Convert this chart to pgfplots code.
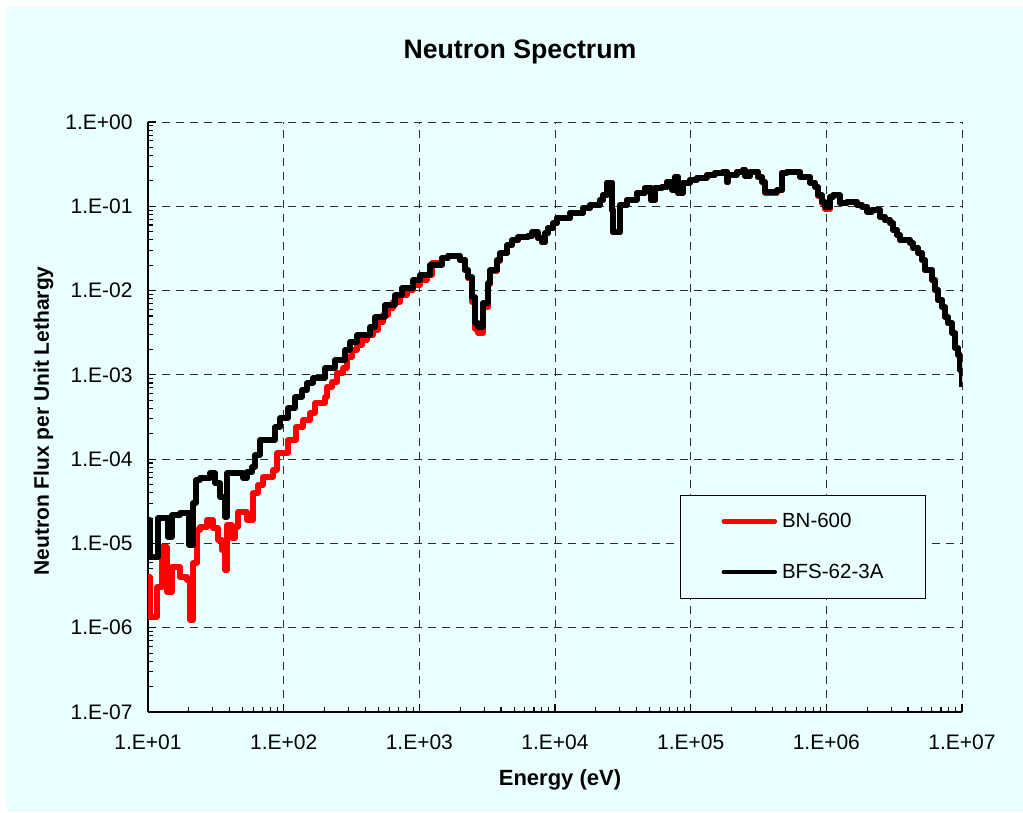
\documentclass[border=0pt]{standalone}
\usepackage{pgfplots}
\pgfplotsset{compat=1.18}
\usepackage{fontspec}
\setmainfont{Liberation Sans}
\definecolor{bgcyan}{RGB}{234,255,255}
\definecolor{gridgray}{RGB}{45,45,45}
\begin{document}
\begin{tikzpicture}[x=1pt,y=1pt]
\fill[white] (0,0) rectangle (1023,812);
\fill[bgcyan] (7,0) rectangle (1023,805);
\begin{axis}[
  at={(148pt,100pt)}, anchor=south west,
  scale only axis, width=814pt, height=590pt,
  xmode=log, ymode=log,
  xmin=10, xmax=1e7, ymin=1e-7, ymax=1,
  axis x line*=bottom, axis y line*=left,
  x axis line style={-, line width=1.6pt},
  y axis line style={-, line width=1.6pt},
  xtick={1e1,1e2,1e3,1e4,1e5,1e6,1e7},
  xticklabels={1.E+01,1.E+02,1.E+03,1.E+04,1.E+05,1.E+06,1.E+07},
  ytick={1e-7,1e-6,1e-5,1e-4,1e-3,1e-2,1e-1,1},
  yticklabels={1.E-07,1.E-06,1.E-05,1.E-04,1.E-03,1.E-02,1.E-01,1.E+00},
  xminorticks=true, yminorticks=true,
  tick align=inside,
  major tick length=8pt, minor tick length=5pt,
  tick style={black, line width=1.1pt},
  grid=major,
  major grid style={gridgray, line width=1pt, dash pattern=on 8pt off 6pt},
  ticklabel style={font=\fontsize{21}{25}\selectfont},
  xticklabel style={yshift=-19pt},
  yticklabel style={xshift=-12pt},
  legend style={at={(0.6536,0.3678)}, anchor=north west, draw=black, line width=1pt,
    fill=bgcyan, font=\fontsize{20.5}{24}\selectfont,
    inner xsep=41pt, inner ysep=17pt, row sep=33pt, column sep=4pt,
    nodes={inner sep=1pt}},
  legend cell align=left,
  legend image code/.code={\draw[#1, line width=4.5pt, line cap=round] (0pt,0pt) -- (51pt,0pt);},
]
\addplot[const plot, red, line width=5.4pt, line join=round] coordinates {
(10,4.0e-6) (10.34,1.341e-6) (11.65,3.042e-6) (12.68,9.07e-6) (13.8,2.654e-6)
(15.0,5.253e-6) (17.2,4.0e-6) (19.39,3.683e-6) (20.39,1.235e-6) (21.5,5.86e-6)
(22.97,1.443e-5) (24.2,1.567e-5) (27.2,1.897e-5) (30.1,1.525e-5) (32.8,1.098e-5)
(35.1,8.36e-6) (37.0,4.84e-6) (38.2,1.655e-5) (41.6,1.160e-5) (43.8,1.567e-5)
(46.1,2.36e-5) (53.7,1.897e-5) (59.4,3.968e-5) (64.7,4.935e-5) (70.4,6.14e-5)
(83.5,7.43e-5) (89.3,1.183e-4) (107.6,1.687e-4) (123.3,2.407e-4) (138.8,2.914e-4)
(156.4,3.528e-4) (170.2,4.637e-4) (201.7,5.462e-4) (208.6,7.18e-4) (227.1,8.23e-4)
(247.3,1.052e-3) (273.7,1.206e-3) (293,1.629e-3) (319,1.972e-3) (347,2.261e-3)
(378,2.592e-3) (411.5,2.972e-3) (455.5,3.406e-3) (496,4.239e-3) (540,5.13e-3)
(587.5,6.21e-3) (639.5,7.32e-3) (720,8.86e-3) (811,1.016e-2) (898,1.165e-2)
(1011,1.335e-2) (1139,1.530e-2) (1240,2.124e-2)
(1469,2.435e-2) (1627,2.572e-2) (1994,2.306e-2) (2170,1.754e-2) (2284,1.40e-2)
(2444,7.3e-3) (2572,3.5e-3) (2706,3.14e-3) (2946,6.3e-3) (3207,1.18e-2)
(3318,1.70e-2) (3736,2.25e-2) (3931,2.75e-2) (4427,3.45e-2) (4819,3.95e-2)
(5336,4.30e-2) (6323,4.42e-2) (6768,4.90e-2) (7494,4.15e-2) (8020,3.72e-2)
(8440,4.78e-2) (8880,5.50e-2) (9670,6.30e-2) (10340,7.25e-2) (12900,8.30e-2)
(16080,9.50e-2) (18110,0.1036) (21460,0.1187) (22580,0.1361) (24170,0.1920)
(26310,9.04e-2) (26760,4.85e-2) (30130,0.1036) (33930,0.1200) (40210,0.1460)
(46070,0.1670) (51000,0.1170) (54580,0.1670) (61460,0.1720) (66910,0.1970)
(72840,0.1580) (76640,0.2250) (80650,0.1438) (87790,0.1920) (98860,0.2090)
(111300,0.2210) (131900,0.2400) (151100,0.2530) (173100,0.2600) (185200,0.1942)
(188400,0.2400) (219500,0.2600) (243000,0.2740) (251400,0.2287) (273700,0.2580)
(313500,0.2226) (335500,0.1942) (353000,0.1440) (432700,0.1530) (471100,0.2520)
(512900,0.2600) (639500,0.2260) (757700,0.1920) (825000,0.1693) (867900,0.1330)
(929000,0.1080) (977500,0.0930) (1064000,0.1289) (1119000,0.1340) (1261000,0.1099)
(1420000,0.1124) (1682000,0.1036) (1832000,0.0990) (1994000,0.0870) (2171000,0.0920)
(2486000,0.0746) (2706000,0.0688) (2946000,0.0633) (3099000,0.0523) (3318000,0.0456)
(3491000,0.0398) (4137000,0.0367) (4352000,0.0320) (4739000,0.0279) (5073000,0.0231)
(5337000,0.0175) (6007000,0.01335) (6322000,0.01016) (6653000,7.73e-3) (7119000,6.39e-3)
(7491000,4.86e-3) (7880000,4.12e-3) (8440000,3.14e-3) (8880000,2.083e-3) (9340000,1.72e-3)
(9660000,1.142e-3) (1e7,7.18e-4)
};
\addlegendentry{BN-600}
\addplot[const plot, black, line width=5.4pt, line join=round] coordinates {
(10,1.897e-5) (10.34,6.905e-6) (11.85,2.004e-5) (14.0,1.193e-5) (15.0,2.175e-5)
(17.2,2.297e-5) (20.1,9.59e-6) (21.5,3.018e-5) (22.6,5.657e-5) (24.2,5.975e-5)
(28.6,6.85e-5) (31.2,5.213e-5) (33.9,3.556e-5) (37.0,2.06e-5) (38.2,6.85e-5)
(50.2,5.975e-5) (53.7,7.04e-5) (58.4,8.07e-5) (61.5,1.120e-4) (66.9,1.687e-4)
(86.3,2.407e-4) (94.0,3.078e-4) (107.6,4.045e-4) (121,5.462e-4) (136.5,6.613e-4)
(148.6,8.006e-4) (164.6,9.18e-4) (201.7,1.206e-3) (238.9,1.501e-3) (283,1.972e-3)
(308,2.454e-3) (347,2.972e-3) (433,3.698e-3) (471,4.859e-3) (558,6.745e-3)
(662,8.86e-3) (745,1.073e-2) (898,1.335e-2) (1011,1.530e-2) (1198,2.011e-2)
(1469,2.435e-2) (1627,2.572e-2) (1994,2.306e-2) (2170,1.754e-2) (2284,1.449e-2)
(2444,8.39e-3) (2572,4.124e-3) (2706,3.698e-3) (2946,7.12e-3) (3207,1.230e-2)
(3318,1.754e-2) (3736,2.306e-2) (3931,2.791e-2) (4427,3.473e-2) (4819,3.981e-2)
(5336,4.321e-2) (6323,4.441e-2) (6768,4.953e-2) (7494,4.205e-2) (8020,3.770e-2)
(8440,4.82e-2) (8880,5.525e-2) (9670,6.334e-2) (10340,7.263e-2) (12900,8.326e-2)
(16080,9.54e-2) (18110,0.1036) (21460,0.1187) (22580,0.1361) (24170,0.1889)
(26310,9.04e-2) (26760,4.953e-2) (30130,0.1036) (33930,0.1187) (40210,0.1438)
(46070,0.1648) (51000,0.1187) (54580,0.1648) (61460,0.1693) (66910,0.1942)
(72840,0.1561) (76640,0.2226) (80650,0.1438) (87790,0.1889) (98860,0.2050)
(111300,0.2166) (131900,0.2350) (151100,0.2482) (173100,0.2551) (185200,0.1942)
(188400,0.2350) (219500,0.2551) (243000,0.2695) (251400,0.2287) (273700,0.2551)
(313500,0.2226) (335500,0.1942) (353000,0.1477) (432700,0.1561) (471100,0.2482)
(512900,0.2551) (639500,0.2226) (757700,0.1889) (825000,0.1693) (867900,0.1361)
(929000,0.1124) (977500,0.0981) (1064000,0.1289) (1119000,0.1361) (1261000,0.1099)
(1420000,0.1124) (1682000,0.1036) (1832000,0.0981) (1994000,0.0855) (2171000,0.0904)
(2486000,0.0746) (2706000,0.0688) (2946000,0.0633) (3099000,0.0523) (3318000,0.0456)
(3491000,0.0398) (4137000,0.0367) (4352000,0.0320) (4739000,0.0279) (5073000,0.0231)
(5337000,0.0175) (6007000,0.01335) (6322000,0.01016) (6653000,7.73e-3) (7119000,6.39e-3)
(7491000,4.86e-3) (7880000,4.12e-3) (8440000,3.14e-3) (8880000,2.083e-3) (9340000,1.72e-3)
(9660000,1.142e-3) (1e7,7.18e-4)
};
\addlegendentry{BFS-62-3A}
\end{axis}
\node[font=\fontsize{26.7}{30}\selectfont\bfseries, anchor=base] at (520,753) {Neutron Spectrum};
\node[font=\fontsize{22}{26}\selectfont\bfseries, anchor=base] at (560,27) {Energy (eV)};
\node[font=\fontsize{21}{25}\selectfont\bfseries, anchor=base, rotate=90] at (49,391) {Neutron Flux per Unit Lethargy};
\pgfresetboundingbox
\path[use as bounding box] (0,0) rectangle (1023,812);
\end{tikzpicture}
\end{document}
